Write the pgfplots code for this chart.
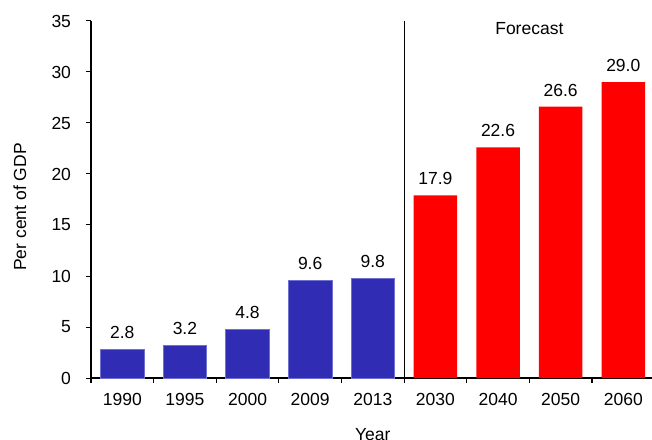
\documentclass[border=0pt]{standalone}
\usepackage{pgfplots}
\pgfplotsset{compat=1.18}
\usepackage{fontspec}
\setmainfont{Liberation Sans}
\definecolor{barblue}{RGB}{48,45,180}
\definecolor{edgeblue}{RGB}{112,112,208}
\definecolor{barred}{RGB}{255,0,0}
\begin{document}
\fontsize{17.5bp}{21bp}\selectfont
\begin{tikzpicture}
\begin{axis}[
  at={(0,0)}, anchor=south west,
  scale only axis,
  width=563.6bp, height=357bp,
  xmin=-0.5, xmax=8.5,
  ymin=0, ymax=35,
  axis x line=bottom, axis y line=left,
  axis line style={line width=1.2bp, -},
  ytick={0,5,...,35},
  xtick={0,...,8},
  xticklabels={1990,1995,2000,2009,2013,2030,2040,2050,2060},
  minor xtick={-0.5,0.5,...,8.5},
  tick align=outside,
  major tick length=5bp, minor tick length=5bp,
  x tick style={draw=none},
  minor x tick style={draw=black, line width=1.2bp},
  y tick style={line width=1bp, black},
  tick label style={font=\fontsize{17.5bp}{21bp}\selectfont},
  /pgf/number format/assume math mode=true,
  xticklabel style={yshift=-4bp},
  yticklabel style={xshift=-9bp},
  ylabel={Per cent of GDP},
  ylabel style={at={(axis description cs:-0.126,0.479)}, anchor=center, rotate=0},
  xlabel={Year},
  xlabel style={at={(axis description cs:0.5,-0.176)}, anchor=base},
  ybar, bar width=43.5bp, bar shift=0pt,
  nodes near coords,
  nodes near coords style={/pgf/number format/fixed, /pgf/number format/fixed zerofill, /pgf/number format/precision=1, /pgf/number format/assume math mode=true},
  every node near coord/.append style={anchor=base, yshift=10.5bp, font=\fontsize{17.5bp}{21bp}\selectfont},
  clip=false,
]
\addplot[fill=barblue, draw=edgeblue, line width=0.8bp] coordinates {
  (0,2.8) (1,3.2) (2,4.8) (3,9.6) (4,9.8)
};
\addplot[fill=barred, draw=none] coordinates {
  (5,17.9) (6,22.6) (7,26.6) (8,29.0)
};
\draw[black, line width=1bp] (axis cs:4.5,0) -- (axis cs:4.5,35);
\node[anchor=base] at (axis cs:6.5,33.7) {Forecast};
\end{axis}
\pgfresetboundingbox
\path[use as bounding box] (-91bp,-62bp) rectangle (561bp,378bp);
\end{tikzpicture}
\end{document}
